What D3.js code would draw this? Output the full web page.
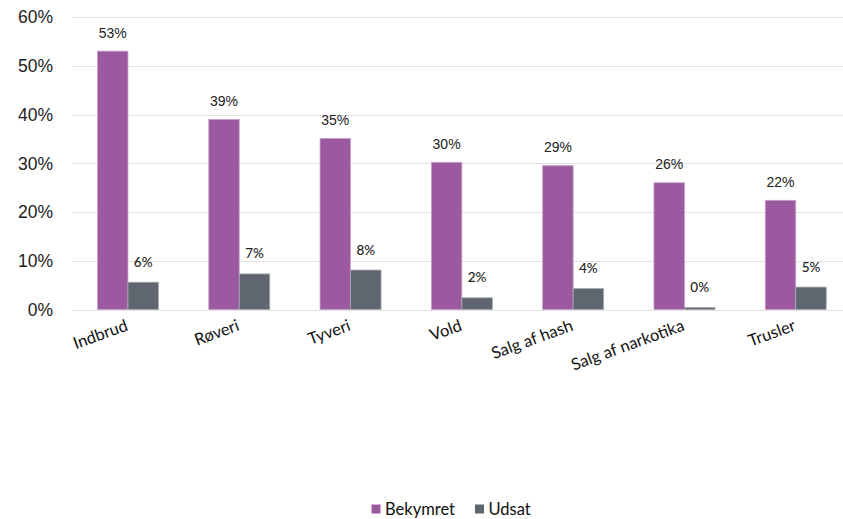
<!DOCTYPE html>
<html><head><meta charset="utf-8">
<script src="https://cdn.jsdelivr.net/npm/d3@7"></script>
<style>body{margin:0;background:#fff}svg{display:block}</style>
</head><body>
<svg id="c" width="843" height="519"></svg>
<script>
const categories = ["Indbrud","Røveri","Tyveri","Vold","Salg af hash","Salg af narkotika","Trusler"];
const seriesNames = ["Bekymret","Udsat"];
const bekymret = [53.0, 39.0, 35.1, 30.2, 29.5, 26.0, 22.4];
const udsat = [5.6, 7.3, 8.1, 2.4, 4.3, 0.4, 4.6];
const bekymretLabels = ["53%","39%","35%","30%","29%","26%","22%"];
const udsatLabels = ["6%","7%","8%","2%","4%","0%","5%"];
const yTicks = [0,10,20,30,40,50,60];
const colors = ["#9B59A0","#5F6670"];

const svg = d3.select("#c");
const y = d3.scaleLinear().domain([0,60]).range([309.5,17]);
const x0 = d3.scaleBand().domain(categories).range([72.3,851.4]).paddingInner(0.452).paddingOuter(0.226);
const x1 = d3.scaleBand().domain(seriesNames).range([0,x0.bandwidth()]);

// gridlines
svg.append("g").selectAll("line").data(yTicks).join("line")
  .attr("x1",72).attr("x2",843)
  .attr("y1",d=>Math.round(y(d))+0.5).attr("y2",d=>Math.round(y(d))+0.5)
  .attr("stroke","#e2e2e2").attr("stroke-width",1);

// y tick labels
svg.append("g").selectAll("text").data(yTicks).join("text")
  .attr("x",53).attr("y",d=>y(d)).attr("dy","0.36em")
  .attr("text-anchor","end")
  .attr("font-family","Liberation Sans, Arial, sans-serif").attr("font-size",17.5)
  .attr("fill","#222").text(d=>d+"%");

const series = [
  {name:"Bekymret", values:bekymret, labels:bekymretLabels, color:colors[0]},
  {name:"Udsat", values:udsat, labels:udsatLabels, color:colors[1]}
];

series.forEach((s,si)=>{
  const g = svg.append("g");
  g.selectAll("rect").data(categories).join("rect")
    .attr("x",(c)=>x0(c)+x1(s.name))
    .attr("width",x1.bandwidth())
    .attr("y",(c,i)=>y(s.values[i]))
    .attr("height",(c,i)=>y(0)-y(s.values[i]))
    .attr("fill",s.color)
    .attr("stroke", si===0 ? "#c9a3cc" : "#a7abb1").attr("stroke-width",0.8);
  g.selectAll("text").data(categories).join("text")
    .attr("x",(c)=>x0(c)+x1(s.name)+x1.bandwidth()/2)
    .attr("y",(c,i)=>y(s.values[i]) - (si===0?13.5:15.5))
    .attr("text-anchor","middle")
    .attr("font-family", si===0 ? "Liberation Sans, Arial, sans-serif" : "Lato, sans-serif")
    .attr("font-size", si===0 ? 14 : 13.5)
    .attr("font-weight", si===0 ? "normal" : "500")
    .attr("fill","#222")
    .text((c,i)=>s.labels[i]);
});

// x labels
svg.append("g").selectAll("text").data(categories).join("text")
  .attr("transform",c=>`translate(${x0(c)+x0.bandwidth()/2+1},${330}) rotate(-20)`)
  .attr("text-anchor","end")
  .attr("font-family","Lato, sans-serif").attr("font-size",16.5)
  .attr("fill","#111").text(c=>c);

// legend
const legendX = [371.5, 475];
const lg = svg.append("g");
series.forEach((s,i)=>{
  lg.append("rect").attr("x",legendX[i]).attr("y",504.5).attr("width",9).attr("height",9).attr("fill",s.color);
  lg.append("text").attr("x",legendX[i]+13.5).attr("y",515)
    .attr("font-family","Lato, sans-serif").attr("font-size",16.5).attr("fill","#111").text(s.name);
});
</script>
</body></html>
